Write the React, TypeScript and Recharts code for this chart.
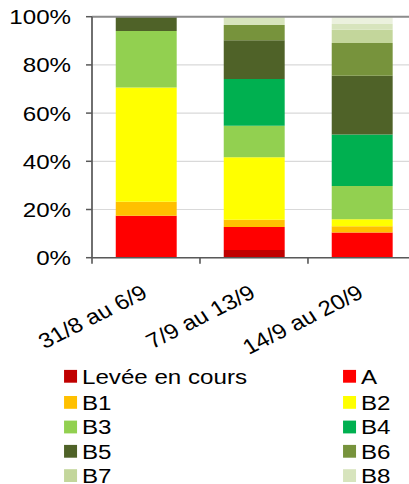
import React from 'react';
import { BarChart, Bar, XAxis, YAxis, CartesianGrid, ReferenceLine, Legend } from 'recharts';

const categories = ['31/8 au 6/9', '7/9 au 13/9', '14/9 au 20/9'];
const seriesNames = ['Levée en cours', 'A', 'B1', 'B2', 'B3', 'B4', 'B5', 'B6', 'B7', 'B8', 'B9'];
const seriesColors = ['#c00000', '#ff0000', '#ffc000', '#ffff00', '#92d050', '#00b050', '#4f6228', '#77933c', '#c3d69b', '#d7e4bd', '#ebf1de'];
const levee = [0, 3.2, 0];
const a = [17.4, 9.5, 10.5];
const b1 = [5.8, 3.0, 2.6];
const b2 = [47.4, 26.0, 2.9];
const b3 = [23.5, 13.0, 13.7];
const b4 = [0, 19.4, 21.4];
const b5 = [5.9, 16.1, 24.4];
const b6 = [0, 6.4, 13.6];
const b7 = [0, 0, 5.5];
const b8 = [0, 3.4, 2.4];
const b9 = [0, 0, 3.0];
const yTicks = [0, 20, 40, 60, 80, 100];
const legendCount = 10;

const seriesValues = [levee, a, b1, b2, b3, b4, b5, b6, b7, b8, b9];
const keys = seriesNames.map((_, i) => 's' + i);
const data = categories.map((c, ci) => {
  const row: any = { cat: c };
  seriesValues.forEach((vals, si) => { row[keys[si]] = vals[ci]; });
  return row;
});

const STRETCH = 1.15;
const CHART_W = 366;
const CHART_H = 484;
const MARGIN = { top: 16.7, right: 4.3, bottom: 196.3, left: 0 };
const YAXIS_W = 80;
const PLOT_W = CHART_W - MARGIN.right - MARGIN.left - YAXIS_W;
const BAND = PLOT_W / categories.length;
const FONT = "'Liberation Sans', Arial, sans-serif";
const AXIS = '#595959';

const XTick = (props: any) => {
  const { x, y, payload, index } = props;
  const half = BAND / 2;
  const tx = x + 2.6;
  const ty = y + 39;
  return (
    <g>
      <line x1={x - half} x2={x - half} y1={y} y2={y + 6} stroke={AXIS} strokeWidth={1.4} />
      {index === categories.length - 1 && (
        <line x1={x + half} x2={x + half} y1={y} y2={y + 6} stroke={AXIS} strokeWidth={1.4} />
      )}
      <text x={tx} y={ty} textAnchor="end" transform={`rotate(-30 ${tx} ${ty})`} fontSize={21} fontFamily={FONT} fill="#000">
        {payload.value}
      </text>
    </g>
  );
};

const legendRows = [376.3, 402.4, 427, 451.3, 475.6];
const LEGEND_TOP = 360;

const LegendContent = () => {
  const items = seriesNames.slice(0, legendCount).map((n, i) => ({ value: n, color: seriesColors[i] }));
  return (
    <svg width={CHART_W} height={CHART_H - LEGEND_TOP} style={{ display: 'block' }}>
      {items.map((p, i) => {
        const col = i % 2;
        const row = Math.floor(i / 2);
        const cy = legendRows[row] - LEGEND_TOP;
        const sx = col === 0 ? 55.7 : 298.3;
        const tx = col === 0 ? 71.3 : 313.9;
        return (
          <g key={i}>
            <rect x={sx} y={cy - 6.4} width={11.3} height={12.8} fill={p.color} />
            <text x={tx} y={cy + 7.4} fontSize={21} fontFamily={FONT} fill="#000">{p.value}</text>
          </g>
        );
      })}
    </svg>
  );
};

export default function App() {
  return (
    <div style={{ position: 'absolute', left: 0, top: 0, width: 409, height: 484, overflow: 'hidden', background: '#fff' }}>
      <div style={{ transform: `scaleX(${STRETCH})`, transformOrigin: '0 0', width: CHART_W, height: CHART_H }}>
        <BarChart width={CHART_W} height={CHART_H} data={data} margin={MARGIN} barCategoryGap="22%">
          <CartesianGrid vertical={false} stroke="#d9d9d9" strokeWidth={1.2} />
          <XAxis
            dataKey="cat"
            interval={0}
            height={30}
            tickLine={false}
            tickSize={0}
            tickMargin={0}
            axisLine={{ stroke: AXIS, strokeWidth: 1.5 }}
            tick={<XTick />}
          />
          <YAxis
            type="number"
            domain={[0, 100]}
            ticks={yTicks}
            width={YAXIS_W}
            tickSize={5.2}
            tickMargin={13}
            tickLine={{ stroke: AXIS, strokeWidth: 1.5 }}
            axisLine={{ stroke: AXIS, strokeWidth: 1.5 }}
            tickFormatter={(v: number) => `${v}%`}
            tick={{ fontSize: 21, fontFamily: FONT, fill: '#000' }}
          />
          {keys.map((k, i) => (
            <Bar key={k} dataKey={k} name={seriesNames[i]} stackId="s" fill={seriesColors[i]} isAnimationActive={false} />
          ))}
          <ReferenceLine y={100} stroke="#8c8c8c" strokeWidth={2} />
          <Legend
            layout="horizontal"
            verticalAlign="middle"
            align="center"
            wrapperStyle={{ left: 0, top: LEGEND_TOP, width: CHART_W, height: CHART_H - LEGEND_TOP }}
            content={<LegendContent />}
          />
        </BarChart>
      </div>
    </div>
  );
}
